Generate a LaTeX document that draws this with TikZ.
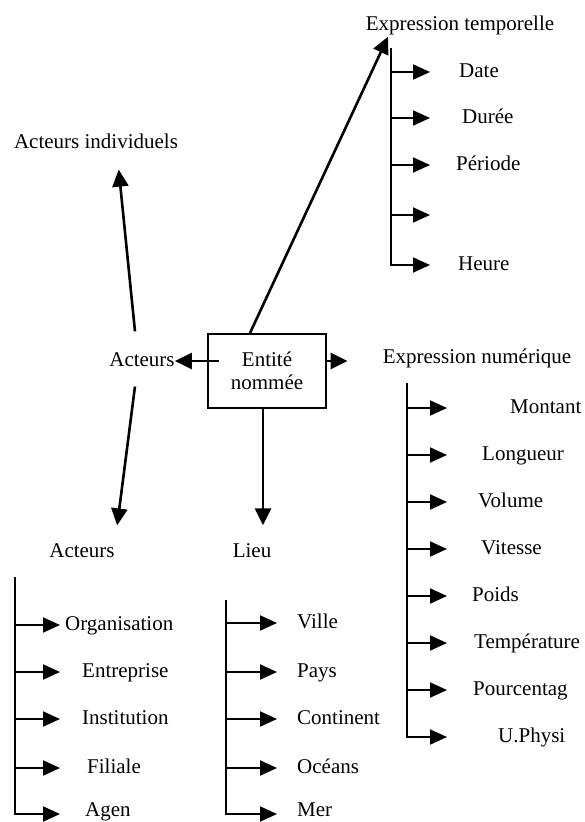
\documentclass[tikz,border=0pt]{standalone}
\usepackage{fontspec}
\setmainfont{Liberation Serif}
\usetikzlibrary{arrows.meta, positioning}

\begin{document}
\begin{tikzpicture}[x=1pt, y=-1pt,
            txt/.style   ={font=\fontsize{21}{24}\selectfont, inner sep=0pt,
                           text height=15pt, text depth=4pt},
            leaf/.style  ={txt, anchor=west},
            entity/.style={rectangle, draw, line width=2pt, align=center,
                           minimum width=118pt, minimum height=74pt,
                           font=\fontsize{21}{23}\selectfont},
            arr/.style   ={-{Triangle[length=17pt, width=16pt]}, line width=2.6pt},
            branch/.style={-{Triangle[length=17pt, width=15pt]}, line width=2pt}
        ]
            \useasboundingbox (0,0) rectangle (584,822);

            % --- Nodo central y categorias ---
            \node[entity] (ent)   at (267,371) {Entité\\nommée};
            \node[txt]    (act)   at (142,361) {Acteurs};
            \node[txt]    (indiv) at (96,143)  {Acteurs individuels};
            \node[txt]    (temp)  at (460,25)  {Expression temporelle};
            \node[txt]    (num)   at (477,358) {Expression numérique};
            \node[txt]    (actb)  at (82,552)  {Acteurs};
            \node[txt]    (lieu)  at (252,552) {Lieu};

            % --- Enlaces desde la entidad ---
            \draw[arr] ([xshift=12pt, yshift=10pt]ent.west) -- (act.east);
            \draw[arr, shorten >=35pt] ([yshift=10pt]ent.east) -- ([yshift=10pt]ent.east -| num.west);
            \draw[arr] ([xshift=-17pt]ent.north) -- ([xshift=-3pt, yshift=-2pt]temp.south -| 391,0);
            \draw[arr, shorten >=17pt] ([xshift=-4pt]ent.south) -- ([xshift=-4pt]ent.south |- lieu.north);
            \draw[arr, shorten <=20pt, shorten >=17pt] ([xshift=-5pt]act.north) -- ([xshift=21pt]indiv.south);
            \draw[arr, shorten <=16pt, shorten >=17pt] ([xshift=-5pt]act.south) -- ([xshift=33pt]actb.north);

            % --- Expression temporelle: lista ---
            \coordinate (ttop) at (391,48);
            \coordinate (tb1) at (391,72);  \coordinate (tt1) at (430,72);
            \coordinate (tb2) at (391,118); \coordinate (tt2) at (430,118);
            \coordinate (tb3) at (391,165); \coordinate (tt3) at (430,165);
            \coordinate (tb4) at (391,215); \coordinate (tt4) at (430,215);
            \coordinate (tt5) at (430,265);
            \node[leaf] (date)    at (459,72)  {Date};
            \node[leaf] (duree)   at (462,118) {Durée};
            \node[leaf] (periode) at (456,165) {Période};
            \node[leaf] (heure)   at (458,265) {Heure};
            \draw[branch] (ttop) |- (tt5);
            \draw[branch] (tb1) -- (tt1);
            \draw[branch] (tb2) -- (tt2);
            \draw[branch] (tb3) -- (tt3);
            \draw[branch] (tb4) -- (tt4);

            % --- Expression numerique: lista ---
            \coordinate (ntop) at (407,383);
            \coordinate (nb1) at (407,408); \coordinate (nt1) at (447,408);
            \coordinate (nb2) at (407,455); \coordinate (nt2) at (447,455);
            \coordinate (nb3) at (407,502); \coordinate (nt3) at (447,502);
            \coordinate (nb4) at (407,549); \coordinate (nt4) at (447,549);
            \coordinate (nb5) at (407,596); \coordinate (nt5) at (447,596);
            \coordinate (nb6) at (407,643); \coordinate (nt6) at (447,643);
            \coordinate (nb7) at (407,690); \coordinate (nt7) at (447,690);
            \coordinate (nt8) at (447,737);
            \node[leaf] (montant) at (510,408) {Montant};
            \node[leaf] (longueur) at (482,455) {Longueur};
            \node[leaf] (volume)  at (478,502) {Volume};
            \node[leaf] (vitesse) at (481,549) {Vitesse};
            \node[leaf] (poids)   at (472,596) {Poids};
            \node[leaf] (temperature) at (474,643) {Température};
            \node[leaf] (pourcent) at (473,690) {Pourcentag};
            \node[leaf] (uphysi)  at (498,737) {U.Physi};
            \draw[branch] (ntop) |- (nt8);
            \draw[branch] (nb1) -- (nt1);
            \draw[branch] (nb2) -- (nt2);
            \draw[branch] (nb3) -- (nt3);
            \draw[branch] (nb4) -- (nt4);
            \draw[branch] (nb5) -- (nt5);
            \draw[branch] (nb6) -- (nt6);
            \draw[branch] (nb7) -- (nt7);

            % --- Acteurs: lista ---
            \coordinate (atop) at (15,577);
            \coordinate (ab1) at (15,625); \coordinate (at1) at (60,625);
            \coordinate (ab2) at (15,672); \coordinate (at2) at (60,672);
            \coordinate (ab3) at (15,719); \coordinate (at3) at (60,719);
            \coordinate (ab4) at (15,768); \coordinate (at4) at (60,768);
            \coordinate (at5) at (60,814);
            \node[leaf] (orga)   at (65,625) {Organisation};
            \node[leaf] (entre)  at (82,672) {Entreprise};
            \node[leaf] (instit) at (82,719) {Institution};
            \node[leaf] (filiale) at (87,768) {Filiale};
            \node[leaf] (agen)   at (85,811) {Agen};
            \draw[branch] (atop) |- (at5);
            \draw[branch] (ab1) -- (at1);
            \draw[branch] (ab2) -- (at2);
            \draw[branch] (ab3) -- (at3);
            \draw[branch] (ab4) -- (at4);

            % --- Lieu: lista ---
            \coordinate (ltop) at (226,600);
            \coordinate (lb1) at (226,623); \coordinate (lt1) at (277,623);
            \coordinate (lb2) at (226,672); \coordinate (lt2) at (277,672);
            \coordinate (lb3) at (226,719); \coordinate (lt3) at (277,719);
            \coordinate (lb4) at (226,768); \coordinate (lt4) at (277,768);
            \coordinate (lt5) at (277,814);
            \node[leaf] (ville)  at (297,623) {Ville};
            \node[leaf] (pays)   at (297,672) {Pays};
            \node[leaf] (contin) at (297,719) {Continent};
            \node[leaf] (oceans) at (297,768) {Océans};
            \node[leaf] (mer)    at (297,811) {Mer};
            \draw[branch] (ltop) |- (lt5);
            \draw[branch] (lb1) -- (lt1);
            \draw[branch] (lb2) -- (lt2);
            \draw[branch] (lb3) -- (lt3);
            \draw[branch] (lb4) -- (lt4);

        \end{tikzpicture}
\end{document}
